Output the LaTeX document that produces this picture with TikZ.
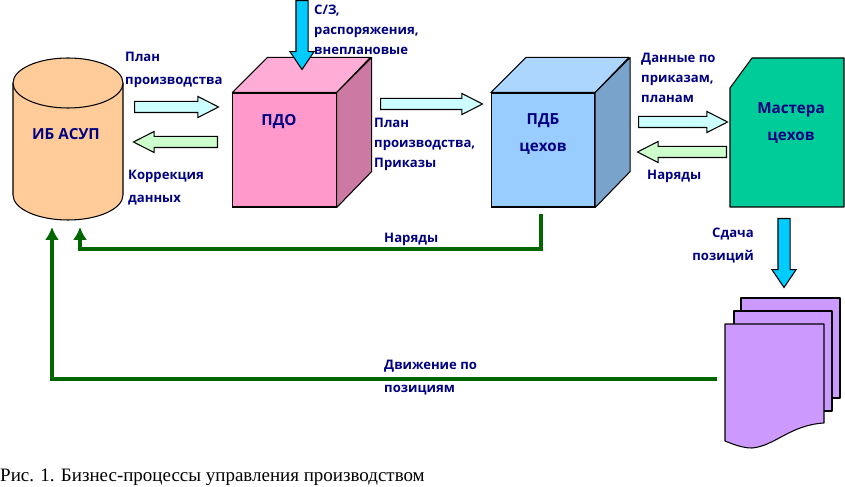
\documentclass[tikz,border=0pt]{standalone}
\usepackage{fontspec}
\setmainfont{Open Sans}
\newfontfamily\capfont{Liberation Serif}
\usetikzlibrary{arrows.meta,calc,shapes.arrows}
\definecolor{navytext}{HTML}{000080}
\definecolor{darkline}{HTML}{006600}
\definecolor{lightcyan}{HTML}{CCFFFF}
\definecolor{lightgreen}{HTML}{CCFFCC}
\definecolor{skyblue}{HTML}{00CCFF}
\definecolor{tan}{HTML}{FFCC99}
\definecolor{mint}{HTML}{00CC99}
\definecolor{lilac}{HTML}{CC99FF}
\definecolor{pinkfront}{HTML}{FF99CC}
\definecolor{pinktop}{HTML}{FFADD6}
\definecolor{pinkside}{HTML}{CC7AA3}
\definecolor{bluefront}{HTML}{99CCFF}
\definecolor{bluetop}{HTML}{ADD6FF}
\definecolor{blueside}{HTML}{7AA3CC}
\tikzset{
  caption/.style={navytext,font=\bfseries\fontsize{11.2}{19.6}\selectfont,align=left,anchor=west,inner sep=0pt},
  tightcaption/.style={caption,font=\bfseries\fontsize{11.2}{17}\selectfont},
  bigcaption/.style={navytext,font=\bfseries\fontsize{13}{23}\selectfont,align=center,inner sep=0pt},
  blockarrow/.style={single arrow,draw=black,line width=0.9pt,inner sep=0pt,text width=0pt,text height=0.3cm,text depth=0pt,
    single arrow head extend=0.15cm,single arrow tip angle=54,anchor=tail},
  droparrow/.style={blockarrow,fill=skyblue,rotate=-90,text height=0.33cm,single arrow head extend=0.18cm,single arrow tip angle=68},
  cubefront/.style={draw=black,line width=0.9pt,inner sep=0pt,minimum width=3.1cm,minimum height=3.42cm},
  cubepart/.style={draw=black,line width=0.9pt,line join=round},
  greenline/.style={darkline,line width=2.6pt,-{Latex[length=11pt,width=12pt]}},
}
\begin{document}
\begin{tikzpicture}[x=0.03cm,y=-0.03cm]
\useasboundingbox (0,0) rectangle (845,487);
% database
\draw[cubepart,fill=tan] (13,83) -- (13,195) arc[start angle=180,end angle=0,x radius=55,y radius=25] -- (123,83);
\draw[cubepart,fill=tan] (68,83) ellipse [x radius=55,y radius=25];
\node[bigcaption] (ibasup) at (66,134) {ИБ АСУП};
% cubes
\node[cubefront,fill=pinkfront] (pdo) at (284.5,150) {};
\draw[cubepart,fill=pinktop] (pdo.north west) -- ++(35,-35) -- ++(103,0) -- (pdo.north east) -- cycle;
\draw[cubepart,fill=pinkside] (pdo.north east) -- ++(35,-35) -- ++(0,114) -- (pdo.south east) -- cycle;
\node[bigcaption] (pdotext) at (279,122) {ПДО};
\node[cubefront,fill=bluefront] (pdb) at (543,150) {};
\draw[cubepart,fill=bluetop] (pdb.north west) -- ++(35,-35) -- ++(103,0) -- (pdb.north east) -- cycle;
\draw[cubepart,fill=blueside] (pdb.north east) -- ++(35,-35) -- ++(0,114) -- (pdb.south east) -- cycle;
\node[bigcaption] (pdbtext) at (543,134) {ПДБ\\цехов};
% card
\draw[cubepart,fill=mint] (730,88) -- (752,58) -- (844,58) -- (844,207) -- (730,207) -- cycle;
\node[bigcaption] (master) at (791,123) {Мастера\\цехов};
% sheets
\draw[cubepart,fill=lilac] (741,298) -- (840,298) -- (840,398) -- (741,398) -- cycle;
\draw[cubepart,fill=lilac] (734,311) -- (832,311) -- (832,411) -- (734,411) -- cycle;
\draw[cubepart,fill=lilac] (725,324) -- (824,324) -- (824,423) .. controls (790,425) and (775,446) .. (752,448) .. controls (743,448) and (735,445) .. (725,441) -- cycle;
% block arrows
\node[blockarrow,fill=lightcyan,minimum height=2.52cm] (planright) at (134,107) {};
\node[blockarrow,fill=lightgreen,minimum height=2.52cm,rotate=180] (corrleft) at (218,142) {};
\node[blockarrow,fill=lightcyan,minimum height=3.06cm] (pdoright) at (380,104) {};
\node[blockarrow,fill=lightcyan,minimum height=2.67cm] (pdbright) at (638,122) {};
\node[blockarrow,fill=lightgreen,minimum height=2.67cm,rotate=180] (masterleft) at (727,152) {};
\node[droparrow,minimum height=2.07cm] (topdown) at (302,0) {};
\node[droparrow,minimum height=2.07cm] (sdachadown) at (784,218) {};
% green lines
\coordinate (narstart) at (541,214);
\coordinate (narbend) at (541,249);
\coordinate (narcorner) at (80,249);
\coordinate (nartip) at (80,227);
\coordinate (movestart) at (717,379);
\coordinate (movecorner) at (52,379);
\coordinate (movetip) at (52,227);
\draw[greenline] (narstart) -- (narbend) -- (narcorner) -- (nartip);
\draw[greenline] (movestart) -- (movecorner) -- (movetip);
% labels
\node[caption] (plan) at (125,69.5) {План\\производства};
\node[caption] (corr) at (128,188) {Коррекция\\данных};
\node[tightcaption] (orders) at (314,30) {С/З,\\распоряжения,\\внеплановые};
\node[tightcaption] (planord) at (374,144) {План\\производства,\\Приказы};
\node[tightcaption] (data) at (641,78) {Данные по\\приказам,\\планам};
\node[caption] (nar) at (384,239) {Наряды};
\node[caption] (narb) at (647,176) {Наряды};
\node[caption,align=right,anchor=east] (sdacha) at (754,245.5) {Сдача\\позиций};
\node[caption] (move) at (384,377.5) {Движение по\\позициям};
\node[anchor=west,inner sep=0pt,font=\capfont\fontsize{16.2}{18}\selectfont] (fig) at (0,477) {Рис. 1. Бизнес-процессы управления производством};
\end{tikzpicture}
\end{document}
